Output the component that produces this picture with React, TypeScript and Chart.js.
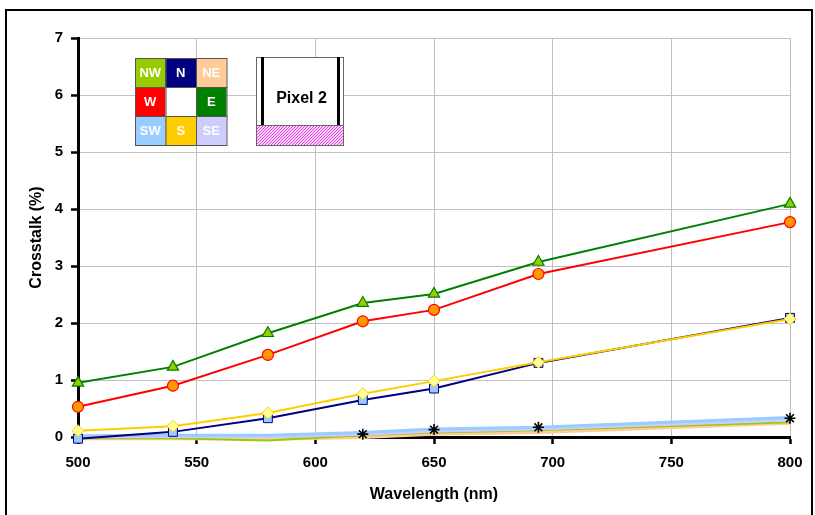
import React, { useEffect, useRef } from 'react';
import { Chart, registerables } from 'chart.js';
Chart.register(...registerables);

const wavelengths = [500, 540, 580, 620, 650, 694, 800];
const seriesE = [0.95, 1.23, 1.82, 2.35, 2.51, 3.07, 4.09];
const seriesW = [0.53, 0.9, 1.44, 2.03, 2.23, 2.86, 3.77];
const seriesS = [0.11, 0.19, 0.42, 0.76, 0.98, 1.31, 2.07];
const seriesN = [-0.03, 0.09, 0.33, 0.65, 0.85, 1.3, 2.09];
const seriesSW = [0.02, 0.03, 0.03, 0.08, 0.14, 0.17, 0.34];
const seriesSE = [0.0, 0.01, 0.0, 0.05, 0.1, 0.14, 0.3];
const seriesNW = [-0.02, -0.02, -0.06, 0.03, 0.08, 0.12, 0.26];
const seriesNE = [-0.03, -0.03, -0.04, -0.01, 0.05, 0.08, 0.24];
const seriesCenter = [null, null, null, 0.05, 0.13, 0.17, 0.33];

const xTicks = [500, 550, 600, 650, 700, 750, 800];
const yTicks = [0, 1, 2, 3, 4, 5, 6, 7];

const legendLabels = [
  ['NW', 'N', 'NE'],
  ['W', '', 'E'],
  ['SW', 'S', 'SE'],
];
const legendColors = [
  ['#99cc00', '#000080', '#ffcc99'],
  ['#ff0000', '#ffffff', '#008000'],
  ['#99ccff', '#ffcc00', '#ccccff'],
];

const FONT = 'Arial, "Liberation Sans", sans-serif';

const toPts = (arr: (number | null)[]) => wavelengths.map((x, i) => ({ x, y: arr[i] }));

const decorPlugin = {
  id: 'decor',
  afterDraw(chart: any) {
    const ctx = chart.ctx as CanvasRenderingContext2D;
    ctx.save();
    // outer frame
    ctx.strokeStyle = '#000';
    ctx.lineWidth = 2;
    ctx.strokeRect(6, 10, 806, 520);

    // legend grid
    const gx = 135, gy = 58, cw = 30.5, ch = 29;
    ctx.font = `bold 13px ${FONT}`;
    ctx.textAlign = 'center';
    ctx.textBaseline = 'middle';
    for (let r = 0; r < 3; r++) {
      for (let c = 0; c < 3; c++) {
        const x = gx + c * cw, y = gy + r * ch;
        ctx.fillStyle = legendColors[r][c];
        ctx.fillRect(x, y, cw, ch);
        ctx.strokeStyle = '#555';
        ctx.lineWidth = 1;
        ctx.strokeRect(x + 0.5, y + 0.5, cw, ch);
        ctx.fillStyle = '#fff';
        ctx.fillText(legendLabels[r][c], x + cw / 2, y + ch / 2 + 1);
      }
    }

    // pixel 2 box
    const px = 256, py = 57, pw = 87, ph = 88, hatchTop = 125;
    ctx.fillStyle = '#fff';
    ctx.fillRect(px, py, pw, ph);
    ctx.save();
    ctx.beginPath();
    ctx.rect(px, hatchTop, pw, py + ph - hatchTop);
    ctx.clip();
    ctx.fillStyle = '#ffd6ff';
    ctx.fillRect(px, hatchTop, pw, py + ph - hatchTop);
    ctx.strokeStyle = '#e040e0';
    ctx.lineWidth = 1;
    for (let k = -30; k < pw + 30; k += 3) {
      ctx.beginPath();
      ctx.moveTo(px + k, py + ph);
      ctx.lineTo(px + k + 25, hatchTop - 5);
      ctx.stroke();
    }
    ctx.restore();
    ctx.strokeStyle = '#666';
    ctx.lineWidth = 1;
    ctx.strokeRect(px + 0.5, py + 0.5, pw, ph);
    ctx.beginPath();
    ctx.moveTo(px, hatchTop + 0.5);
    ctx.lineTo(px + pw, hatchTop + 0.5);
    ctx.stroke();
    ctx.fillStyle = '#000';
    ctx.fillRect(px + 5, py, 3, hatchTop - py);
    ctx.fillRect(px + pw - 6, py, 3, hatchTop - py);
    ctx.font = `bold 16px ${FONT}`;
    ctx.fillText('Pixel 2', px + pw / 2 + 2, 99);
    ctx.restore();
  },
};

export default function App() {
  const ref = useRef<HTMLCanvasElement | null>(null);
  useEffect(() => {
    if (!ref.current) return;
    const line = (label: string, data: (number | null)[], color: string, extra: any = {}) => ({
      label,
      data: toPts(data),
      borderColor: color,
      backgroundColor: color,
      borderWidth: 2,
      pointRadius: 0,
      clip: false,
      ...extra,
    });
    // Chart.js paints dataset 0 last (on top)
    const chart = new Chart(ref.current, {
      type: 'line',
      data: {
        datasets: [
          line('C', seriesCenter, '#000000', {
            showLine: false,
            pointStyle: 'star',
            pointRadius: 5.5,
            pointBorderWidth: 1.6,
            pointBorderColor: '#000',
            pointBackgroundColor: '#fff',
          }),
          line('E', seriesE, '#008000', {
            pointStyle: 'triangle',
            pointRadius: 6.5,
            pointBackgroundColor: '#99cc00',
            pointBorderColor: '#008000',
            pointBorderWidth: 1.2,
          }),
          line('W', seriesW, '#ff0000', {
            pointStyle: 'circle',
            pointRadius: 5.5,
            pointBackgroundColor: '#ff9900',
            pointBorderColor: '#ff0000',
            pointBorderWidth: 1.2,
          }),
          line('S', seriesS, '#ffcc00', {
            pointStyle: 'rectRot',
            pointRadius: 6,
            pointBackgroundColor: '#ffff99',
            pointBorderColor: '#ffcc00',
            pointBorderWidth: 1,
          }),
          line('N', seriesN, '#000080', {
            pointStyle: 'rect',
            pointRadius: 6.3,
            pointBackgroundColor: '#99ccff',
            pointBorderColor: '#000080',
            pointBorderWidth: 1,
          }),
          line('SW', seriesSW, '#99ccff', { borderWidth: 3 }),
          line('SE', seriesSE, '#ccccff', { borderWidth: 3 }),
          line('NW', seriesNW, '#99cc00', { borderWidth: 2 }),
          line('NE', seriesNE, '#ffcc99', { borderWidth: 3 }),
        ],
      },
      options: {
        responsive: false,
        animation: false,
        events: [],
        layout: { padding: { left: 0, top: 38, right: 25, bottom: 0 } },
        plugins: { legend: { display: false }, tooltip: { enabled: false } },
        scales: {
          x: {
            type: 'linear',
            min: 500,
            max: 800,
            afterFit: (s: any) => { s.height = 78; },
            afterBuildTicks: (s: any) => { s.ticks = xTicks.map((v) => ({ value: v })); },
            grid: { color: '#c0c0c0', lineWidth: 1, tickColor: '#000', tickLength: 7, tickWidth: 2.5 },
            border: { color: '#000', width: 3 },
            ticks: { color: '#000', padding: 10, font: { family: FONT, size: 15, weight: 'bold' } },
            title: {
              display: true,
              text: 'Wavelength (nm)',
              color: '#000',
              font: { family: FONT, size: 16, weight: 'bold' },
              padding: { top: 0, bottom: 11 },
            },
          },
          y: {
            min: 0,
            max: 7,
            afterFit: (s: any) => { s.width = 78; },
            afterBuildTicks: (s: any) => { s.ticks = yTicks.map((v) => ({ value: v })); },
            grid: { color: '#c0c0c0', lineWidth: 1, tickColor: '#000', tickLength: 7, tickWidth: 2.5 },
            border: { color: '#000', width: 3 },
            ticks: { color: '#000', padding: 8, font: { family: FONT, size: 15, weight: 'bold' } },
            title: {
              display: true,
              text: 'Crosstalk (%)',
              color: '#000',
              font: { family: FONT, size: 16, weight: 'bold' },
              padding: { top: 27, bottom: 0 },
            },
          },
        },
      } as any,
      plugins: [decorPlugin],
    });
    return () => chart.destroy();
  }, []);
  return (
    <div style={{ position: 'fixed', left: 0, top: 0, width: 815, height: 515, background: '#fff' }}>
      <canvas ref={ref} width={815} height={515} style={{ display: 'block' }} />
    </div>
  );
}
